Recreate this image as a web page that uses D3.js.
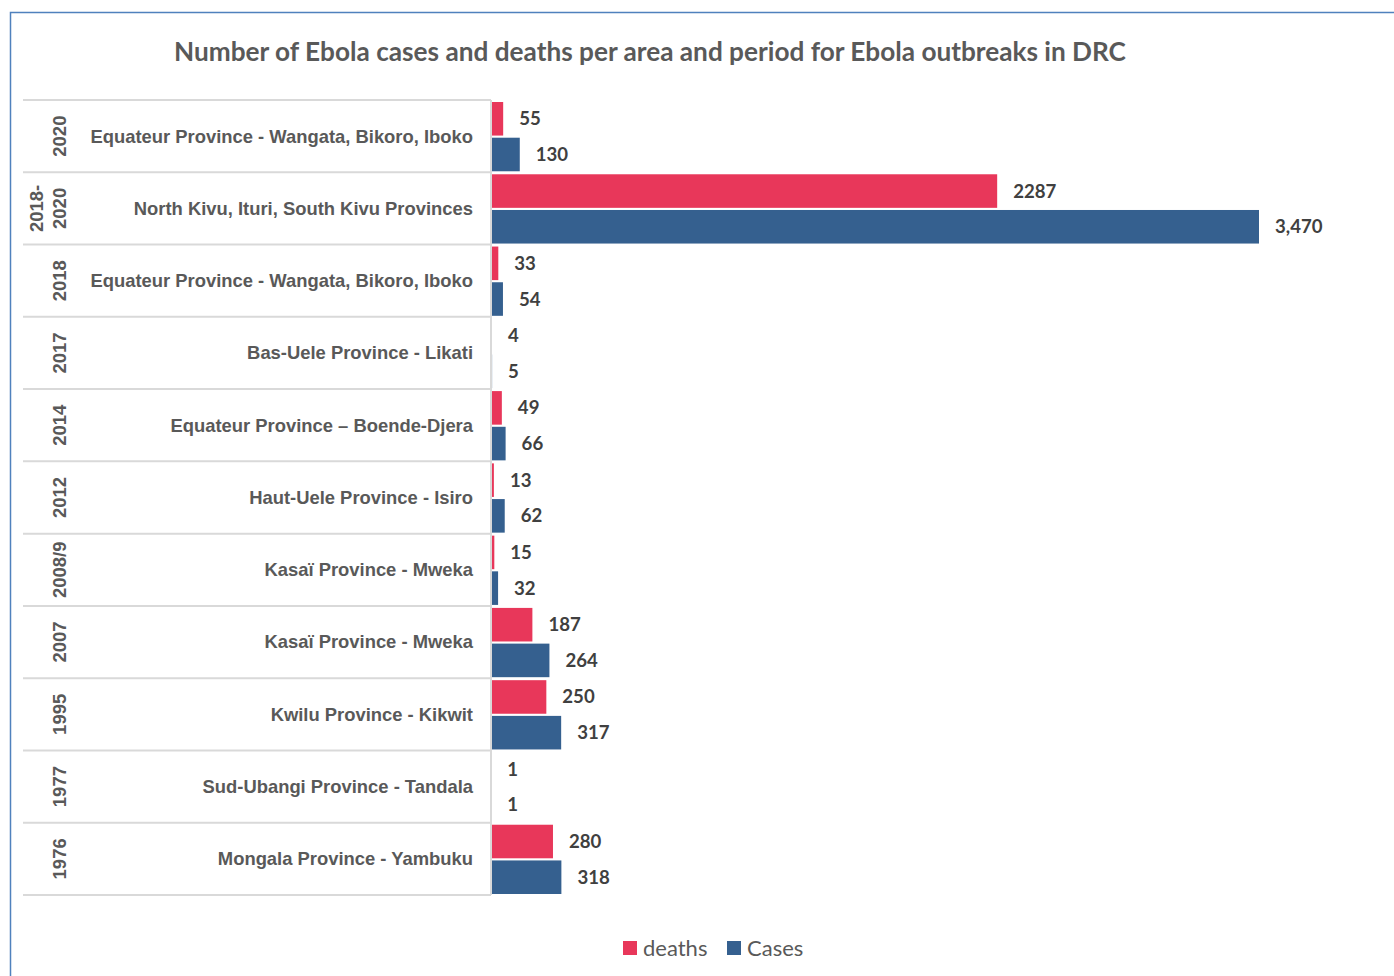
<!DOCTYPE html>
<html>
<head>
<meta charset="utf-8">
<title>Ebola DRC</title>
<script src="https://d3js.org/d3.v7.min.js"></script>
<style>
  body { margin: 0; background: #fff; }
  svg { display: block; }
</style>
</head>
<body>
<div id="chart"></div>
<script>
// data, top row first
const years = [["2020"], ["2018-", "2020"], ["2018"], ["2017"], ["2014"], ["2012"], ["2008/9"], ["2007"], ["1995"], ["1977"], ["1976"]];
const areas = [
  "Equateur Province - Wangata, Bikoro, Iboko",
  "North Kivu, Ituri, South Kivu Provinces",
  "Equateur Province - Wangata, Bikoro, Iboko",
  "Bas-Uele Province - Likati",
  "Equateur Province \u2013 Boende-Djera",
  "Haut-Uele Province - Isiro",
  "Kasaï Province - Mweka",
  "Kasaï Province - Mweka",
  "Kwilu Province - Kikwit",
  "Sud-Ubangi Province - Tandala",
  "Mongala Province - Yambuku"
];
const deaths = [55, 2287, 33, 4, 49, 13, 15, 187, 250, 1, 280];
const cases = [130, 3470, 54, 5, 66, 62, 32, 264, 317, 1, 318];
const seriesNames = ["deaths", "Cases"];
const seriesColors = ["#e8375a", "#35608f"];

const width = 1394, height = 976;
const svg = d3.select("#chart").append("svg")
  .attr("width", width)
  .attr("height", height);

// outer frame (runs off the right and bottom edges)
svg.append("path")
  .attr("d", "M10.5,976 L10.5,12.5 L1394,12.5")
  .attr("fill", "none")
  .attr("stroke", "#4f81bd")
  .attr("stroke-width", 1.5);

svg.append("text")
  .attr("x", 650)
  .attr("y", 61)
  .attr("text-anchor", "middle")
  .style("font-family", "Lato, 'Open Sans', sans-serif")
  .style("font-weight", "bold")
  .style("font-size", "26.2px")
  .attr("fill", "#595959")
  .text("Number of Ebola cases and deaths per area and period for Ebola outbreaks in DRC");

const rows = d3.range(areas.length);
const x0 = 491;

const x = d3.scaleLinear()
  .domain([0, 3470])
  .range([x0, 1259]);

const y = d3.scaleBand()
  .domain(rows)
  .range([100, 895]);

const inner = d3.scaleBand()
  .domain([0, 1])
  .range([2, y.bandwidth() - 1])
  .paddingInner(0.06);

// row separators
svg.append("g").selectAll("line")
  .data(d3.range(areas.length + 1))
  .join("line")
  .attr("x1", 23)
  .attr("x2", x0)
  .attr("y1", d => 100 + d * y.bandwidth())
  .attr("y2", d => 100 + d * y.bandwidth())
  .attr("stroke", "#d9d9d9")
  .attr("stroke-width", 2);

svg.append("line")
  .attr("x1", x0).attr("x2", x0)
  .attr("y1", 100).attr("y2", 895)
  .attr("stroke", "#d9d9d9")
  .attr("stroke-width", 2);

// year labels (rotated)
const yearG = svg.append("g")
  .style("font-family", "'Liberation Sans', Arial, sans-serif")
  .style("font-weight", "bold")
  .style("font-size", "18.5px")
  .attr("fill", "#595959");

rows.forEach(i => {
  const cy = y(i) + y.bandwidth() / 2;
  const lines = years[i];
  lines.forEach((t, j) => {
    const cx = 60 - (lines.length - 1 - j) * 23;
    yearG.append("text")
      .attr("transform", `translate(${cx},${cy}) rotate(-90)`)
      .attr("text-anchor", "middle")
      .attr("dy", "0.35em")
      .text(t);
  });
});

// area labels
svg.append("g").selectAll("text")
  .data(rows)
  .join("text")
  .attr("x", 473)
  .attr("y", d => y(d) + y.bandwidth() / 2)
  .attr("dy", "0.35em")
  .attr("text-anchor", "end")
  .style("font-family", "'Liberation Sans', Arial, sans-serif")
  .style("font-weight", "bold")
  .style("font-size", "18.4px")
  .attr("fill", "#595959")
  .text(d => areas[d]);

// bars
const series = [deaths, cases];
series.forEach((vals, s) => {
  const g = svg.append("g");
  g.selectAll("rect")
    .data(rows)
    .join("rect")
    .attr("x", x0 + 1)
    .attr("y", d => y(d) + inner(s))
    .attr("width", d => Math.max(0, x(vals[d]) - x0 - 1))
    .attr("height", inner.bandwidth())
    .attr("fill", seriesColors[s]);

  g.selectAll("text")
    .data(rows)
    .join("text")
    .attr("x", d => x(vals[d]) + 16)
    .attr("y", d => y(d) + inner(s) + inner.bandwidth() / 2)
    .attr("dy", "0.35em")
    .style("font-family", "Lato, 'Open Sans', sans-serif")
    .style("font-weight", "bold")
    .style("font-size", "18.6px")
    .attr("fill", "#404040")
    .text(d => s === 1 ? d3.format(",")(vals[d]) : vals[d]);
});

// legend
const legend = svg.append("g").attr("transform", "translate(623,948)");
const legendX = [0, 104];
seriesNames.forEach((name, i) => {
  legend.append("rect")
    .attr("x", legendX[i])
    .attr("y", -7)
    .attr("width", 14)
    .attr("height", 14)
    .attr("fill", seriesColors[i]);
  legend.append("text")
    .attr("x", legendX[i] + 20)
    .attr("y", 0)
    .attr("dy", "0.35em")
    .style("font-family", "Lato, 'Open Sans', sans-serif")
    .style("font-size", "22px")
    .attr("fill", "#595959")
    .text(name);
});
</script>
</body>
</html>
